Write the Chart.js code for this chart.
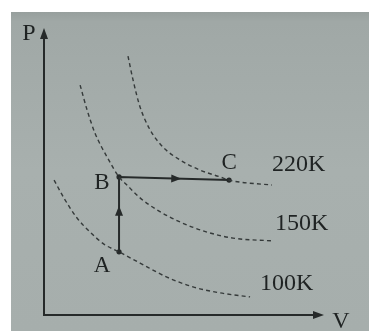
<!DOCTYPE html>
<html>
<head>
<meta charset="utf-8">
<script src="https://cdn.jsdelivr.net/npm/chart.js@4/dist/chart.umd.min.js"></script>
<style>
  html, body { margin: 0; padding: 0; background: #ffffff; }
  #wrap { width: 369px; height: 331px; }
</style>
</head>
<body>
<div id="wrap"><canvas id="c" width="369" height="331"></canvas></div>
<script>
// ---- data (arbitrary V / P units) ----
const isoLabels = ["100K", "150K", "220K"];
const iso100V = [0.36, 0.71, 1.18, 1.68, 2.14, 2.68, 3.43, 4.39, 5.32, 6.29, 7.36];
const iso100P = [4.70, 4.08, 3.38, 2.86, 2.47, 2.20, 1.81, 1.32, 0.98, 0.77, 0.63];
const iso150V = [1.29, 1.54, 1.82, 2.25, 2.68, 2.96, 3.43, 4.04, 4.86, 5.82, 6.75, 8.18];
const iso150P = [8.01, 7.14, 6.34, 5.51, 4.81, 4.53, 4.08, 3.66, 3.24, 2.89, 2.68, 2.58];
const iso220V = [3.00, 3.18, 3.43, 3.79, 4.25, 4.86, 5.57, 6.29, 6.61, 7.00, 8.14];
const iso220P = [9.02, 8.19, 7.25, 6.45, 5.85, 5.40, 5.05, 4.81, 4.70, 4.63, 4.53];
const pathNames = ["A", "B", "C"];
const pathV = [2.68, 2.68, 6.61];
const pathP = [2.20, 4.81, 4.70];
const axisNames = ["P", "V"];

const toPts = (xs, ys) => xs.map((x, i) => ({ x: x, y: ys[i] }));

const INK = '#262a2a';
const DASH = '#353a3a';
const SERIF = '"Liberation Serif", "DejaVu Serif", serif';

function isoDataset(label, xs, ys) {
  return {
    label: label, data: toPts(xs, ys), showLine: true,
    borderColor: DASH, borderWidth: 1.4, borderDash: [4, 3.2],
    pointRadius: 0, tension: 0.4, cubicInterpolationMode: 'monotone',
    fill: false
  };
}

const decor = {
  id: 'decor',
  beforeDraw(chart) {
    const ctx = chart.ctx;
    ctx.save();
    ctx.fillStyle = '#ffffff';
    ctx.fillRect(0, 0, chart.width, chart.height);
    const g = ctx.createLinearGradient(0, 12, 0, chart.height);
    g.addColorStop(0, '#979f9d');
    g.addColorStop(0.03, '#a0a8a6');
    g.addColorStop(0.5, '#a8b0ae');
    g.addColorStop(1, '#a6aeac');
    ctx.fillStyle = g;
    ctx.fillRect(11, 12, chart.width - 11, chart.height - 12);
    ctx.restore();
  },
  afterDatasetsDraw(chart) {
    const ctx = chart.ctx;
    const a = chart.chartArea;
    const xs = chart.scales.x, ys = chart.scales.y;
    ctx.save();
    // axes
    ctx.strokeStyle = INK; ctx.fillStyle = INK; ctx.lineWidth = 2;
    ctx.beginPath();
    ctx.moveTo(a.left, a.top + 6);
    ctx.lineTo(a.left, a.bottom);
    ctx.lineTo(a.right - 6, a.bottom);
    ctx.stroke();
    // y arrow
    ctx.beginPath();
    ctx.moveTo(a.left, a.top);
    ctx.lineTo(a.left - 4, a.top + 11);
    ctx.lineTo(a.left + 4, a.top + 11);
    ctx.closePath(); ctx.fill();
    // x arrow
    ctx.beginPath();
    ctx.moveTo(a.right, a.bottom);
    ctx.lineTo(a.right - 11, a.bottom - 4);
    ctx.lineTo(a.right - 11, a.bottom + 4);
    ctx.closePath(); ctx.fill();

    // path arrows (midpoints)
    const px = pathV.map(v => xs.getPixelForValue(v));
    const py = pathP.map(p => ys.getPixelForValue(p));
    function arrowAt(x0, y0, x1, y1, frac) {
      const mx = x0 + (x1 - x0) * frac, my = y0 + (y1 - y0) * frac;
      const ang = Math.atan2(y1 - y0, x1 - x0);
      ctx.save();
      ctx.translate(mx, my); ctx.rotate(ang);
      ctx.beginPath();
      ctx.moveTo(5, 0); ctx.lineTo(-5, -4); ctx.lineTo(-5, 4);
      ctx.closePath(); ctx.fill();
      ctx.restore();
    }
    arrowAt(px[0], py[0], px[1], py[1], 0.55);
    arrowAt(px[1], py[1], px[2], py[2], 0.52);

    // text
    ctx.fillStyle = '#1f2323';
    ctx.textAlign = 'center'; ctx.textBaseline = 'middle';
    ctx.font = '23px ' + SERIF;
    ctx.fillText(pathNames[0], px[0] - 17, py[0] + 14);
    ctx.fillText(pathNames[1], px[1] - 17, py[1] + 6);
    ctx.fillText(pathNames[2], px[2], py[2] - 17);
    ctx.font = '24px ' + SERIF;
    ctx.fillText(axisNames[0], a.left - 15, a.top + 6);
    ctx.fillText(axisNames[1], a.right + 17, a.bottom + 7);

    ctx.textAlign = 'left';
    const ends = [
      [iso100V, iso100P, 10, -13],
      [iso150V, iso150P, 2, -17],
      [iso220V, iso220P, 0, -20]
    ];
    ends.forEach((e, i) => {
      const ex = xs.getPixelForValue(e[0][e[0].length - 1]);
      const ey = ys.getPixelForValue(e[1][e[1].length - 1]);
      ctx.fillText(isoLabels[i], ex + e[2], ey + e[3]);
    });
    ctx.restore();
  }
};

new Chart(document.getElementById('c'), {
  type: 'scatter',
  data: {
    datasets: [
      isoDataset(isoLabels[0], iso100V, iso100P),
      isoDataset(isoLabels[1], iso150V, iso150P),
      isoDataset(isoLabels[2], iso220V, iso220P),
      {
        label: 'path', data: toPts(pathV, pathP), showLine: true,
        borderColor: INK, borderWidth: 2, tension: 0,
        pointRadius: 2.6, pointBackgroundColor: INK, pointBorderWidth: 0
      }
    ]
  },
  options: {
    responsive: false, animation: false, devicePixelRatio: 1,
    layout: { padding: { left: 44, right: 45, top: 28, bottom: 16 } },
    plugins: { legend: { display: false }, tooltip: { enabled: false } },
    scales: {
      x: { type: 'linear', min: 0, max: 10, display: false },
      y: { type: 'linear', min: 0, max: 10, display: false }
    }
  },
  plugins: [decor]
});
</script>
</body>
</html>
